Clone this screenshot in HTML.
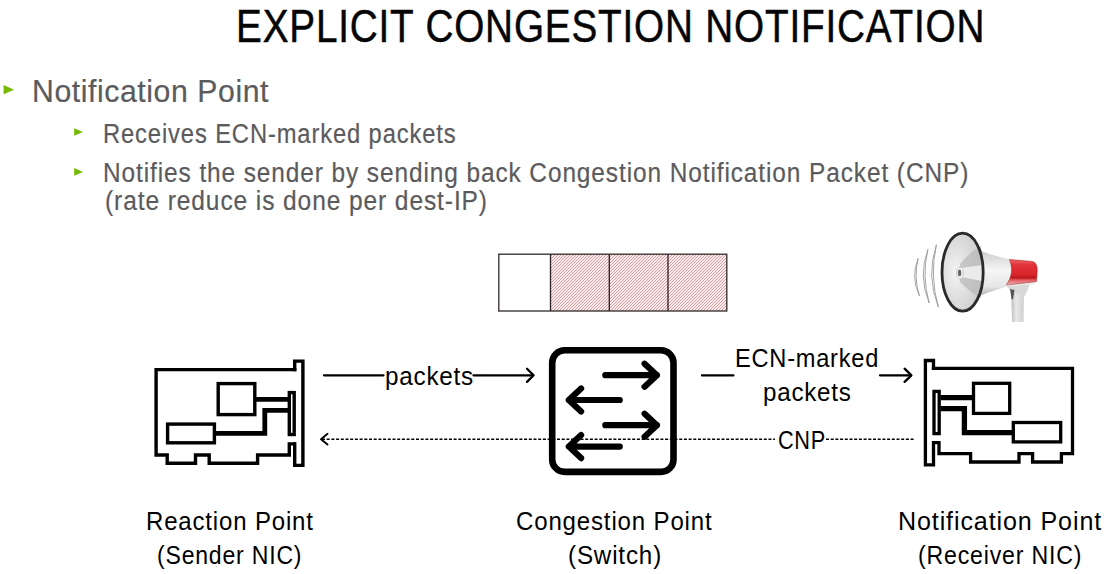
<!DOCTYPE html>
<html><head><meta charset="utf-8"><style>
html,body{margin:0;padding:0;background:#fff;}
body{width:1106px;height:574px;position:relative;overflow:hidden;font-family:"Liberation Sans",sans-serif;}
.t{position:absolute;-webkit-text-stroke:0.2px currentColor;white-space:nowrap;line-height:100px;height:100px;transform-origin:0 0;}
svg{position:absolute;left:0;top:0;}
</style></head><body>
<svg width="1106" height="574" viewBox="0 0 1106 574">
<defs>
<pattern id="hatch" width="3" height="3" patternUnits="userSpaceOnUse">
<rect width="3" height="3" fill="#fcebeb"/>
<path d="M-1,1 L1,-1 M0,3 L3,0 M2,4 L4,2" stroke="#d4979a" stroke-width="0.9"/>
</pattern>
<g id="nic" fill="none" stroke="#000" stroke-width="3.4" stroke-linejoin="miter" stroke-linecap="square">
<path d="M294.7,369.6 L156.1,369.6 L156.1,455 L167.2,455 L167.2,463.3 L195.5,463.3 L195.5,455 L209.2,455 L209.2,463.3 L257.6,463.3 L257.6,455 L289.3,455 L289.3,443.9 L294.2,443.9"/>
<path d="M294.7,369.6 L294.7,361.1 L302.9,361.1 L302.9,465.4 L294.7,465.4 L294.7,443.9"/>
<rect x="289.3" y="392.6" width="4.9" height="41.9"/>
<rect x="218.2" y="383.6" width="36.6" height="31"/>
<rect x="167.6" y="424.1" width="46.8" height="18.7"/>
<path d="M254.8,399.3 L289.3,399.3" stroke-width="4.8" stroke-linecap="butt"/>
<path d="M214.4,433.4 L264.8,433.4 L264.8,410.4 L289.3,410.4" stroke-width="4.8" stroke-linecap="butt"/>
</g>
</defs>
<!-- bullets -->
<polygon points="3.6,85.1 14,89.65 3.6,94.2" fill="#76b900"/>
<polygon points="74.2,128.2 83,131.95 74.2,135.7" fill="#76b900"/>
<polygon points="74.2,168.1 83,171.9 74.2,175.7" fill="#76b900"/>

<!-- queue -->
<rect x="550.5" y="254.2" width="176.3" height="56.8" fill="url(#hatch)"/>
<rect x="498.8" y="254.2" width="228" height="56.8" fill="none" stroke="#383030" stroke-width="1.35"/>
<path d="M550.5,254.2 V311 M609.3,254.2 V311 M668,254.2 V311" stroke="#2e2424" stroke-width="1.35"/>

<!-- NICs -->
<use href="#nic"/>
<g fill="none" stroke="#000" stroke-width="3.3" stroke-linejoin="miter" stroke-linecap="square">
<path d="M933.5,368.3 L1072.5,368.3 L1072.5,453.6 L1061.4,453.6 L1061.4,462 L1032.6,462 L1032.6,453.6 L1019,453.6 L1019,462 L970.6,462 L970.6,453.6 L939,453.6 L939,442.7 L934,442.7"/>
<path d="M933.5,368.3 L933.5,360.5 L925.4,360.5 L925.4,464.9 L933.5,464.9 L933.5,442.7"/>
<rect x="934" y="391.4" width="5.2" height="42.2"/>
<rect x="973.5" y="383.3" width="36.2" height="30.1"/>
<rect x="1013.3" y="422.5" width="47.4" height="19.4"/>
<path d="M940.5,397.6 L973.5,397.6" stroke-width="5.3" stroke-linecap="butt"/>
<path d="M940.5,408.7 L964.4,408.7 L964.4,432.6 L1013.3,432.6" stroke-width="5.3" stroke-linecap="butt"/>
</g>

<!-- switch -->
<rect x="552.2" y="350.3" width="121.3" height="121.6" rx="12.5" fill="none" stroke="#000" stroke-width="6.6"/>
<g fill="none" stroke="#000" stroke-width="6.2" stroke-linecap="round" stroke-linejoin="round">
<path d="M605.3,375.2 H656.9 M644.6,363.7 L656.9,375.2 L644.6,386.7"/>
<path d="M619.8,400 H568.8 M581.1,388.5 L568.8,400 L581.1,411.5"/>
<path d="M605.3,425.2 H656.9 M644.6,413.7 L656.9,425.2 L644.6,436.7"/>
<path d="M619.8,446.6 H568.8 M581.1,435.1 L568.8,446.6 L581.1,458.1"/>
</g>

<!-- arrows -->
<g fill="none" stroke="#000" stroke-width="2.3" stroke-linecap="round" stroke-linejoin="round">
<path d="M324,375.3 H383.5 M473.5,375.3 H533"/>
<path d="M527,368.7 L533.6,375.3 L527,381.9"/>
<path d="M702,375.4 H733.4 M880,375.3 H911"/>
<path d="M904.6,368.7 L911.4,375.3 L904.6,381.9"/>
<path d="M327.5,433.8 L321,439.2 L327.5,444.6" stroke-width="1.9"/>
<path d="M322,439.3 H775 M826,439.3 H914" stroke-dasharray="3 1.7" stroke-width="1.6" stroke-linecap="butt"/>
</g>

<!-- megaphone -->
<defs>
<linearGradient id="bodyG" x1="0" y1="0" x2="0" y2="1">
<stop offset="0" stop-color="#a8a8a8"/><stop offset="0.15" stop-color="#d4d4d4"/><stop offset="0.45" stop-color="#f6f6f6"/><stop offset="0.75" stop-color="#e6e6e6"/><stop offset="1" stop-color="#9c9c9c"/>
</linearGradient>
<linearGradient id="redG" x1="0" y1="0" x2="0" y2="1">
<stop offset="0" stop-color="#f0686b"/><stop offset="0.2" stop-color="#e2353b"/><stop offset="0.6" stop-color="#d9242b"/><stop offset="0.72" stop-color="#b8161c"/><stop offset="0.8" stop-color="#e4585d"/><stop offset="0.95" stop-color="#eaa0a3"/><stop offset="1" stop-color="#eee"/>
</linearGradient>
<linearGradient id="handG" x1="0" y1="0" x2="1" y2="0">
<stop offset="0" stop-color="#bdbdbd"/><stop offset="0.4" stop-color="#e8e8e8"/><stop offset="1" stop-color="#cfcfcf"/>
</linearGradient>
<radialGradient id="bellG" cx="0.35" cy="0.5" r="0.7">
<stop offset="0" stop-color="#f4f4f4"/><stop offset="0.5" stop-color="#dedede"/><stop offset="1" stop-color="#c9c9c9"/>
</radialGradient>
</defs>
<g>
<path d="M1011,290 L1024,290 L1023.5,322 L1012,322 Z" fill="url(#handG)"/>
<path d="M1006,286 L1030,284 L1025,296 L1013,293 Z" fill="#d9d9d9"/>
<path d="M1010,289 L1014.5,290 L1013,299.5 L1011.5,299 Z" fill="#555"/>
<path d="M970,246 Q985,254 1010.5,259.5 L1032.7,261.5 Q1038,263.5 1037,272 L1036,281 L1034,284.4 L1006.8,286.6 Q988,292 970,300 Z" fill="url(#bodyG)"/>
<path d="M1009.5,259.5 L1032.7,261.5 Q1037.5,263 1037.2,271 L1036.5,281.5 L1006.5,285 Q1015,272 1009.5,259.5 Z" fill="url(#redG)" stroke="#a01015" stroke-width="0.5"/>
<ellipse cx="962.6" cy="272.2" rx="20.6" ry="39" fill="url(#bellG)"/>
<path d="M960,264 Q972,250 981,246 Q984,272 981,298 Q972,294 960,282 Z" fill="#b9b9b9" opacity="0.75"/>
<path d="M961,268 L982,265 L982,281 L961,277 Z" fill="#f2f2f2" opacity="0.85"/>
<ellipse cx="962.6" cy="272.2" rx="20.6" ry="39" fill="none" stroke="#2a2a2a" stroke-width="2.8"/>
<ellipse cx="960" cy="272.9" rx="3.4" ry="6" fill="#fafafa" stroke="#bbb" stroke-width="0.8"/>
<ellipse cx="959.6" cy="272.9" rx="1.7" ry="3.4" fill="#666"/>
</g>
<g fill="none" stroke="#8f8f8f" stroke-width="0.8">
<path d="M936.4,244.8 Q926,276 938.3,306.9 Q929.5,276 936.4,244.8 Z"/>
<path d="M927.9,249.4 Q918,276 929.2,303 Q921.5,276 927.9,249.4 Z"/>
<path d="M918.1,258.5 Q910.5,277 919.4,295.8 Q913.5,277 918.1,258.5 Z"/>
</g>
</svg>

<div class="t" id="title" style="-webkit-text-stroke:0.5px;left:235.98px;top:-25px;font-size:47.0px;color:#050505;letter-spacing:1.0px;transform:translateY(0.71px) scaleX(0.8231)">EXPLICIT CONGESTION NOTIFICATION</div>
<div class="t" id="np" style="left:32.44px;top:40px;font-size:31.5px;color:#5b5b5d;letter-spacing:0.6px;transform:translateY(0.89px) scaleX(0.9590)">Notification Point</div>
<div class="t" id="s1" style="left:102.65px;top:84px;font-size:27.0px;color:#5b5b5d;letter-spacing:1.0px;transform:translateY(0.14px) scaleX(0.8793)">Receives ECN-marked packets</div>
<div class="t" id="s2" style="left:102.89px;top:122px;font-size:27.0px;color:#5b5b5d;letter-spacing:1.0px;transform:translateY(0.94px) scaleX(0.9047)">Notifies the sender by sending back Congestion Notification Packet (CNP)</div>
<div class="t" id="s3" style="left:104.65px;top:150px;font-size:27.0px;color:#5b5b5d;letter-spacing:1.0px;transform:translateY(0.54px) scaleX(0.9081)">(rate reduce is done per dest-IP)</div>
<div class="t" id="pk1" style="-webkit-text-stroke:0;left:384.88px;top:325px;font-size:25.5px;color:#000;letter-spacing:0.8px;transform:translateY(0.96px) scaleX(0.9514)">packets</div>
<div class="t" id="ecn" style="-webkit-text-stroke:0;left:735.05px;top:308px;font-size:25.5px;color:#000;letter-spacing:0.8px;transform:translateY(0.36px) scaleX(0.9270)">ECN-marked</div>
<div class="t" id="pk2" style="-webkit-text-stroke:0;left:762.79px;top:342px;font-size:25.5px;color:#000;letter-spacing:0.8px;transform:translateY(0.16px) scaleX(0.9470)">packets</div>
<div class="t" id="cnp" style="-webkit-text-stroke:0;left:777.98px;top:389px;font-size:25.5px;color:#000;letter-spacing:0.8px;transform:translateY(0.66px) scaleX(0.8519)">CNP</div>
<div class="t" id="l1a" style="-webkit-text-stroke:0;left:145.53px;top:470px;font-size:25.5px;color:#000;letter-spacing:0.9px;transform:translateY(0.86px) scaleX(0.9400)">Reaction Point</div>
<div class="t" id="l1b" style="-webkit-text-stroke:0;left:157.02px;top:505px;font-size:25.5px;color:#000;letter-spacing:0.9px;transform:translateY(0.06px) scaleX(0.9023)">(Sender NIC)</div>
<div class="t" id="l2a" style="-webkit-text-stroke:0;left:516.17px;top:470px;font-size:25.5px;color:#000;letter-spacing:0.9px;transform:translateY(0.86px) scaleX(0.9419)">Congestion Point</div>
<div class="t" id="l2b" style="-webkit-text-stroke:0;left:567.87px;top:505px;font-size:25.5px;color:#000;letter-spacing:0.9px;transform:translateY(0.06px) scaleX(0.9471)">(Switch)</div>
<div class="t" id="l3a" style="-webkit-text-stroke:0;left:897.54px;top:470px;font-size:25.5px;color:#000;letter-spacing:0.9px;transform:translateY(0.96px) scaleX(0.9832)">Notification Point</div>
<div class="t" id="l3b" style="-webkit-text-stroke:0;left:917.72px;top:505px;font-size:25.5px;color:#000;letter-spacing:0.9px;transform:translateY(0.06px) scaleX(0.9067)">(Receiver NIC)</div>
</body></html>
